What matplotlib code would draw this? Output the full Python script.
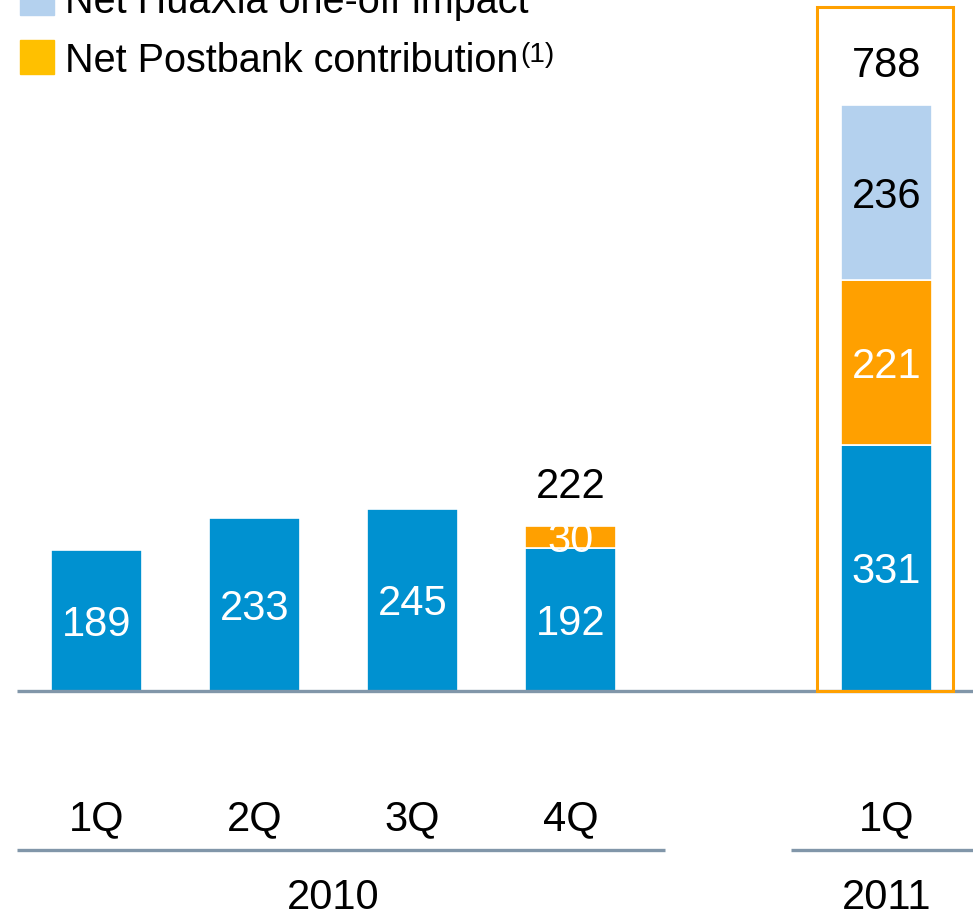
import numpy as np
from matplotlib import pyplot as plt
from matplotlib.patches import Rectangle

plt.rcParams['font.family'] = ['Liberation Sans', 'DejaVu Sans']

quarters = ['1Q', '2Q', '3Q', '4Q', '1Q']
years = ['2010', '2011']
xpos = np.array([0, 1, 2, 3, 5])
core = np.array([189, 233, 245, 192, 331])
postbank = np.array([0, 0, 0, 30, 221])
huaxia = np.array([0, 0, 0, 0, 236])
totals = core + postbank + huaxia
legend_labels = ['Net HuaXia one-off impact', 'Net Postbank contribution']

blue = '#0091d0'
orange = '#ffa000'
orange_legend = '#ffc000'
light = '#b4d1ee'
grey = '#8196a9'

fig = plt.figure(figsize=(9.73, 9.17), dpi=100)
ax = fig.add_axes([0, 0, 1, 1])
ax.set_xlim(-0.611, 5.547)
ax.set_ylim(-303.8, 928.8)
ax.axis('off')

w = 0.576
ax.bar(xpos, core, w, color=blue, edgecolor='white', linewidth=1.2, zorder=3)
m = postbank > 0
ax.bar(xpos[m], postbank[m], w, bottom=core[m], color=orange,
       edgecolor='white', linewidth=1.2, zorder=3)
m2 = huaxia > 0
ax.bar(xpos[m2], huaxia[m2], w, bottom=(core + postbank)[m2], color=light,
       edgecolor='white', linewidth=1.2, zorder=3)

fs = 30
for x, c in zip(xpos, core):
    ax.text(x, c / 2, str(c), ha='center', va='center_baseline', color='white', fontsize=fs, zorder=5)
for x, c, p in zip(xpos[m], core[m], postbank[m]):
    ax.text(x, c + p / 2, str(p), ha='center', va='center_baseline', color='white', fontsize=fs, zorder=5)
for x, b, h in zip(xpos[m2], (core + postbank)[m2], huaxia[m2]):
    ax.text(x, b + h / 2, str(h), ha='center', va='center_baseline', color='black', fontsize=fs, zorder=5)
for x, t, p in zip(xpos, totals, postbank):
    if p > 0:
        ax.annotate(str(t), xy=(x, t), xytext=(0, 31), textcoords='offset points',
                    ha='center', va='center_baseline', fontsize=fs, zorder=5)

# baseline
ax.plot([-0.503, 5.547], [0, 0], color=grey, linewidth=2.4, zorder=4, solid_capstyle='butt')

# highlight frame around 2011
ax.add_patch(Rectangle((4.56, 0), 0.86, 920, fill=False, edgecolor=orange,
                       linewidth=2.2, zorder=6))

# category labels
trans = ax.get_xaxis_transform()
for x, q in zip(xpos, quarters):
    ax.text(x, 0.111, q, transform=trans, ha='center', va='center_baseline', fontsize=fs)
ax.plot([-0.503, 3.598], [0.073, 0.073], transform=trans, color=grey, linewidth=2.4,
        solid_capstyle='butt')
ax.plot([4.396, 5.547], [0.073, 0.073], transform=trans, color=grey, linewidth=2.4,
        solid_capstyle='butt')
ax.text(1.5, 0.026, years[0], transform=trans, ha='center', va='center_baseline', fontsize=fs)
ax.text(5.0, 0.026, years[1], transform=trans, ha='center', va='center_baseline', fontsize=fs)

# legend (top cut off as in the slide)
sw = [light, orange_legend]
base = [1.0 - 15 / 917, 1.0 - 74 / 917]
for col, y, lab in zip(sw, base, legend_labels):
    fig.patches.append(Rectangle((20 / 973, y), 34 / 973, 34 / 917,
                                 transform=fig.transFigure, color=col))
    t = fig.text(65 / 973, y + 2 / 917, lab, ha='left', va='baseline', fontsize=28.5)
ax.annotate('(1)', xy=(1, 1.0), xycoords=t, xytext=(1, 0), textcoords='offset points',
            ha='left', va='top', fontsize=20)

fig.savefig('out.png', dpi=100)
